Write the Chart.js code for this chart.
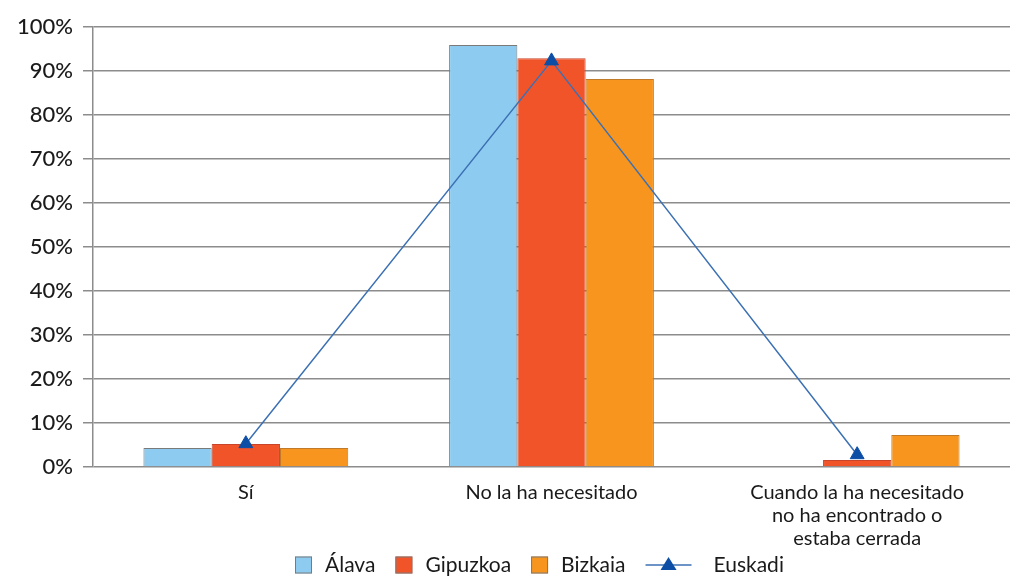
<!DOCTYPE html>
<html>
<head>
<meta charset="utf-8">
<script src="https://cdn.jsdelivr.net/npm/chart.js@4/dist/chart.umd.min.js"></script>
<style>
  html, body { margin: 0; padding: 0; background: #fff; }
  #wrap { width: 1019px; height: 576px; position: relative; }
</style>
</head>
<body>
<div id="wrap"><canvas id="chart"></canvas></div>
<script>
// ── Data ──
const categories = [
  'Sí',
  'No la ha necesitado',
  ['Cuando la ha necesitado', 'no ha encontrado o', 'estaba cerrada']
];
const alava = [4.3, 95.9, 0];
const gipuzkoa = [5.2, 92.9, 1.6];
const bizkaia = [4.3, 88.2, 7.3];
const euskadi = [5.3, 92.3, 2.8];
const yTicks = [0, 10, 20, 30, 40, 50, 60, 70, 80, 90, 100];

const gridGrey = '#8c8c8c';
const textColor = '#1a1a1a';
const fontFamily = 'Lato, "Open Sans", sans-serif';

// Custom legend row: boxes for bars, line + triangle for Euskadi
const legendRow = {
  id: 'legendRow',
  afterDraw(chart) {
    const ctx = chart.ctx;
    const y = 565;
    const box = 17;
    ctx.save();
    ctx.font = `21px ${fontFamily}`;
    ctx.textBaseline = 'middle';
    const items = chart.data.datasets.map(ds => ({
      label: ds.label,
      isLine: ds.type === 'line',
      fill: ds.type === 'line' ? ds.pointBackgroundColor : ds.backgroundColor,
      stroke: ds.borderColor
    }));
    items.sort((a, b) => a.isLine - b.isLine);
    let x = 295;
    items.forEach(it => {
      let textX;
      if (it.isLine) {
        ctx.strokeStyle = it.stroke;
        ctx.lineWidth = 1.5;
        ctx.beginPath();
        ctx.moveTo(x, y);
        ctx.lineTo(x + 46, y);
        ctx.stroke();
        ctx.fillStyle = it.fill;
        ctx.beginPath();
        ctx.moveTo(x + 23, y - 8);
        ctx.lineTo(x + 31, y + 5);
        ctx.lineTo(x + 15, y + 5);
        ctx.closePath();
        ctx.fill();
        textX = x + 68;
      } else {
        ctx.fillStyle = it.fill;
        ctx.fillRect(x, y - box / 2, box, box);
        ctx.strokeStyle = '#7a7a7a';
        ctx.lineWidth = 1;
        ctx.strokeRect(x + 0.5, y - box / 2 + 0.5, box - 1, box - 1);
        textX = x + box + 13;
      }
      ctx.fillStyle = textColor;
      ctx.fillText(it.label, textX, y);
      x = textX + ctx.measureText(it.label).width + 20;
    });
    ctx.restore();
  }
};

const barStyle = {
  borderWidth: 1,
  borderColor: '#7a7a7a',
  categoryPercentage: 0.67,
  barPercentage: 1.0,
  order: 1
};

new Chart(document.getElementById('chart'), {
  data: {
    labels: categories,
    datasets: [
      { type: 'bar', label: 'Álava', data: alava, backgroundColor: '#8ecbf0', ...barStyle },
      { type: 'bar', label: 'Gipuzkoa', data: gipuzkoa, backgroundColor: '#f2542a', ...barStyle, borderColor: '#c8452a' },
      { type: 'bar', label: 'Bizkaia', data: bizkaia, backgroundColor: '#f7951f', ...barStyle, borderColor: '#c07a2a' },
      {
        type: 'line',
        label: 'Euskadi',
        data: euskadi,
        borderColor: '#3b70b4',
        borderWidth: 1.5,
        tension: 0,
        fill: false,
        pointStyle: 'triangle',
        pointRadius: 8,
        pointBackgroundColor: '#0c4ea6',
        pointBorderColor: '#0c4ea6',
        pointBorderWidth: 1,
        order: 0
      }
    ]
  },
  options: {
    responsive: true,
    maintainAspectRatio: false,
    animation: false,
    layout: { padding: { left: 7, right: 6, top: 27, bottom: 12 } },
    plugins: {
      legend: { display: false },
      tooltip: { enabled: false }
    },
    scales: {
      x: {
        offset: true,
        grid: {
          offset: true,
          drawOnChartArea: true,
          drawTicks: false,
          color: c => (c.index === 3 ? gridGrey : 'transparent'),
          lineWidth: 1.5
        },
        border: { display: false },
        ticks: {
          color: textColor,
          font: { family: fontFamily, size: 20, lineHeight: 1.15 },
          padding: 14,
          maxRotation: 0,
          autoSkip: false
        }
      },
      y: {
        min: 0,
        max: 100,
        afterBuildTicks: axis => { axis.ticks = yTicks.map(v => ({ value: v })); },
        grid: { color: gridGrey, lineWidth: 1.5, tickLength: 10 },
        border: { color: gridGrey, width: 1.5 },
        ticks: {
          color: textColor,
          font: { family: fontFamily, size: 22, weight: '500' },
          padding: 10,
          callback: v => v + '%'
        }
      }
    }
  },
  plugins: [legendRow]
});
</script>
</body>
</html>
